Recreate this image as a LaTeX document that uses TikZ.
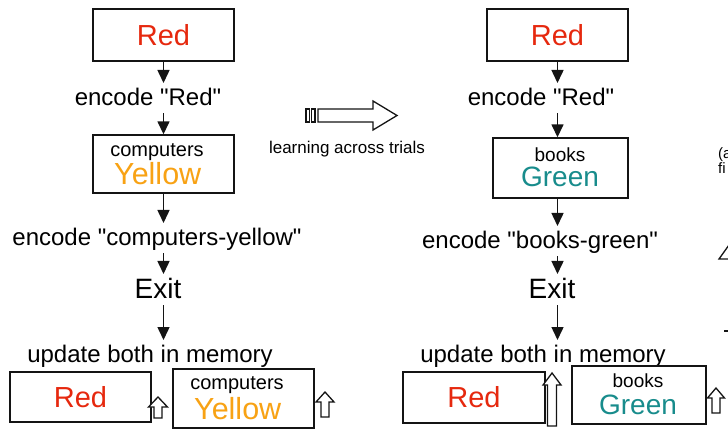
\documentclass[tikz,border=0pt]{standalone}
\usepackage{fontspec}
\setmainfont{Liberation Sans}[Ligatures=TeXOff]
\usetikzlibrary{arrows.meta}

\definecolor{wred}{RGB}{230,40,14}
\definecolor{wyel}{RGB}{248,162,20}
\definecolor{wgreen}{RGB}{24,140,140}
\definecolor{ink}{RGB}{20,20,20}

\newcommand{\hollowup}[6]{% centre x, top y, bottom y, head width, shaft width, head height
  \draw[hollow] ({#1-#4/2},{#2+#6}) -- (#1,#2) -- ({#1+#4/2},{#2+#6})
    -- ({#1+#5/2},{#2+#6}) -- ({#1+#5/2},#3) -- ({#1-#5/2},#3)
    -- ({#1-#5/2},{#2+#6}) -- cycle;}

\begin{document}
\begin{tikzpicture}[x=1pt,y=-1pt,
  box/.style={draw=ink, line width=1.4pt, inner sep=0pt, fill=white},
  word/.style={font=\fontsize{29}{30}\selectfont},
  small/.style={inner sep=0pt, font=\fontsize{20}{21}\selectfont},
  lab/.style={inner sep=0pt, text height=22pt, text depth=8pt, font=\fontsize{24}{26}\selectfont},
  exitlab/.style={inner sep=0pt, text height=24pt, text depth=7pt, font=\fontsize{28}{30}\selectfont},
  arr/.style={line width=1.5pt, draw=ink, -{Triangle[length=13pt,width=12pt]}},
  hollow/.style={draw=ink, line width=1.3pt, fill=white, line join=miter}]
\useasboundingbox (0,0) rectangle (728,438);
\clip (0,0) rectangle (728,438);

\coordinate (colL) at (163.5,0);
\coordinate (colR) at (557.5,0);

% ---------- left column ----------
\node[box, word, text=wred, minimum width=141pt, minimum height=52pt] (r1) at (163.5,35) {Red};
\node[lab, anchor=north] (e1) at (148,83) {encode "Red"};
\draw[arr] (r1.south) -- (e1.north -| colL);

\node[box, minimum width=141pt, minimum height=58pt] (c1) at (163.5,164) {};
\node[small] (c1w) at (157,152) {computers};
\begin{scope}
  \clip (110,158) rectangle (201,192);
  \node[inner sep=0pt, anchor=west, text=wyel, font=\fontsize{30.5}{31}\selectfont] (c1c) at (114,174) {Yellow};
\end{scope}
\draw[arr] (e1.south -| colL) -- (c1.north -| colL);

\node[lab, anchor=north] (e2) at (157,223) {encode "computers-yellow"};
\draw[arr] (c1.south -| colL) -- (e2.north -| colL);

\node[exitlab, anchor=north] (x1) at (158,274) {Exit};
\draw[arr] (e2.south -| colL) -- (x1.north -| colL);

\node[lab, anchor=north] (u1) at (150,340) {update both in memory};
\draw[arr] (x1.south -| colL) -- (u1.north -| colL);

% memory boxes, left
\node[box, word, text=wred, minimum width=141pt, minimum height=50pt] (b1) at (80.5,397) {Red};
\node[box, minimum width=141pt, minimum height=59pt] (b2) at (243.5,398.5) {};
\node[small] (b2w) at (237,385) {computers};
\begin{scope}
  \clip (190,394) rectangle (281,426);
  \node[inner sep=0pt, anchor=west, text=wyel, font=\fontsize{30.5}{31}\selectfont] (b2c) at (194,409) {Yellow};
\end{scope}
\hollowup{158}{397}{418}{19}{8}{10}
\hollowup{325}{392}{417}{18}{8}{10}

% ---------- transition arrow ----------
\draw[hollow] (306,109) rectangle (309.5,122);
\draw[hollow] (311.5,109) rectangle (315,122);
\draw[hollow] (318,109) -- (373,109) -- (373,101) -- (397,115.5) -- (373,130)
  -- (373,122) -- (318,122) -- cycle;
\node[inner sep=0pt, font=\fontsize{17}{18}\selectfont] (lt) at (347,149) {learning across trials};

% ---------- right column ----------
\node[box, word, text=wred, minimum width=141pt, minimum height=52pt] (r2) at (557.5,35) {Red};
\node[lab, anchor=north] (e3) at (541,83) {encode "Red"};
\draw[arr] (r2.south) -- (e3.north -| colR);

\node[box, minimum width=135pt, minimum height=60pt] (g1) at (560.5,168) {};
\node[small, font=\fontsize{19}{20}\selectfont] (g1w) at (560,155) {books};
\node[inner sep=0pt, text=wgreen, font=\fontsize{28}{30}\selectfont] (g1c) at (560,177) {Green};
\draw[arr] (e3.south -| colR) -- (g1.north -| colR);

\node[lab, anchor=north] (e4) at (540,226) {encode "books-green"};
\draw[arr] (g1.south -| colR) -- (e4.north -| colR);

\node[exitlab, anchor=north] (x2) at (552,274) {Exit};
\draw[arr] (e4.south -| colR) -- (x2.north -| colR);

\node[lab, anchor=north] (u2) at (543,340) {update both in memory};
\draw[arr] (x2.south -| colR) -- (u2.north -| colR);

% memory boxes, right
\node[box, word, text=wred, minimum width=142pt, minimum height=51pt] (b3) at (474,397.5) {Red};
\node[box, minimum width=134pt, minimum height=58pt] (b4) at (639,395) {};
\node[small, font=\fontsize{19}{20}\selectfont] (b4w) at (638,381) {books};
\node[inner sep=0pt, text=wgreen, font=\fontsize{28}{30}\selectfont] (b4c) at (638,405) {Green};
\hollowup{552}{373}{426}{18}{9}{12}
\hollowup{716}{388}{413}{17}{8}{10}

% ---------- next panel, cut by the right edge ----------
\node[inner sep=0pt, anchor=base west, font=\fontsize{15}{16}\selectfont] (pa) at (718,159) {(a};
\node[inner sep=0pt, anchor=base west, font=\fontsize{15}{16}\selectfont] (pb) at (718,174) {fi};
\draw[ink, line width=1.3pt] (729,245) -- (719,259) -- (730,259);
\draw[ink, line width=1.3pt] (724,331) -- (730,331);
\end{tikzpicture}
\end{document}
